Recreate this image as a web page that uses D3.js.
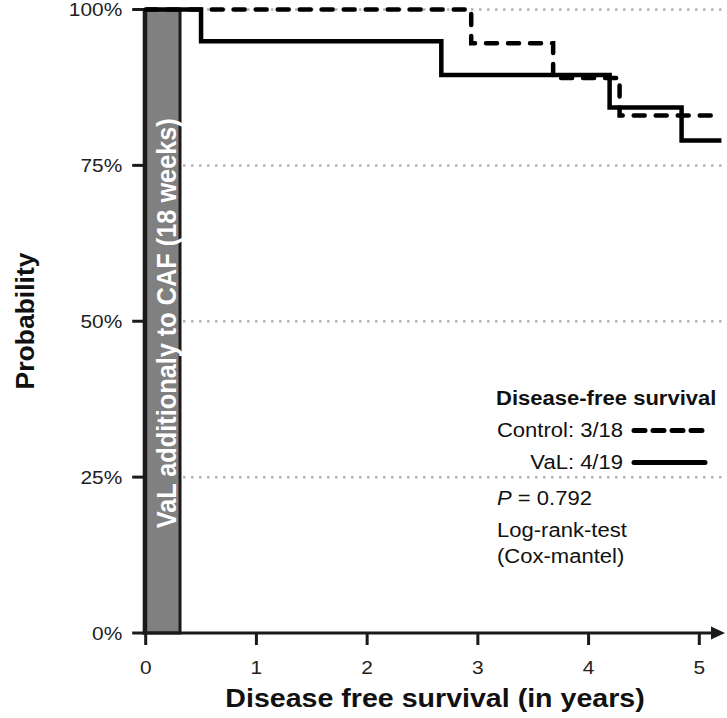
<!DOCTYPE html>
<html><head><meta charset="utf-8">
<script src="https://cdn.jsdelivr.net/npm/d3@7"></script>
<style>body{margin:0;background:#fff}svg{display:block}text{font-family:"Liberation Sans",Arial,sans-serif}</style>
</head><body>
<svg id="c" width="727" height="718"></svg>
<script>
// ---- data ----
const valTimes = [0, 0.50, 2.67, 4.19, 4.84, 5.2];
const valSurv  = [1, 0.949, 0.895, 0.843, 0.790, 0.790];
const ctrlTimes = [0, 2.94, 3.68, 4.28, 5.2];
const ctrlSurv  = [1, 0.946, 0.890, 0.830, 0.830];
const xTicks = [0, 1, 2, 3, 4, 5];
const yTicks = [0, 0.25, 0.5, 0.75, 1];
const yTickLabels = ["0%", "25%", "50%", "75%", "100%"];
const treatmentEnd = 0.31;           // 18 weeks
const legendTitle = "Disease-free survival";
const legendItems = ["Control: 3/18", "VaL: 4/19"];
const pText = "0.792";

const svg = d3.select("#c");
const x = d3.scaleLinear().domain([0, 5]).range([145.7, 699.3]);
const y = d3.scaleLinear().domain([0, 1]).range([633, 9.5]);
const SX = 1.13;
const ink = "#1a1a1a";

// grid
svg.append("g").selectAll("line").data(yTicks.filter(d => d > 0)).join("line")
  .attr("x1", x(treatmentEnd) + 3).attr("x2", 727)
  .attr("y1", d => y(d)).attr("y2", d => y(d))
  .attr("stroke", "#b3b3b3").attr("stroke-width", 2.5).attr("stroke-dasharray", "2.5,5.5");

// treatment bar
svg.append("rect")
  .attr("x", x(0)).attr("y", y(1))
  .attr("width", x(treatmentEnd) - x(0)).attr("height", y(0) - y(1))
  .attr("fill", "#808080").attr("stroke", ink).attr("stroke-width", 3);
svg.append("text")
  .attr("transform", `translate(176,${y(0.5)+2}) rotate(-90) scale(1,1.12)`)
  .attr("text-anchor", "middle").attr("fill", "#fff")
  .attr("font-weight", "bold").attr("font-size", 25.3)
  .text("VaL additionaly to CAF (18 weeks)");

// y axis
const yAxis = svg.append("g").attr("transform", `translate(${x(0)-1.5},0)`);
yAxis.append("line").attr("x1", 0).attr("x2", 0).attr("y1", y(1) - 1.5).attr("y2", y(0) + 1.5)
  .attr("stroke", ink).attr("stroke-width", 3);
yAxis.selectAll("line.t").data(yTicks).join("line").attr("class", "t")
  .attr("x1", -12).attr("x2", 0).attr("y1", d => y(d)).attr("y2", d => y(d))
  .attr("stroke", ink).attr("stroke-width", 3);
yAxis.selectAll("text").data(yTicks).join("text")
  .attr("transform", d => `translate(-22,${y(d) + 6.5}) scale(${SX},1)`)
  .attr("text-anchor", "end").attr("font-size", 18.5).attr("fill", "#222")
  .text((d, i) => yTickLabels[i]);

// x axis
const xAxis = svg.append("g");
xAxis.append("line").attr("x1", x(0) - 3).attr("x2", 712).attr("y1", y(0)).attr("y2", y(0))
  .attr("stroke", ink).attr("stroke-width", 3);
xAxis.append("path").attr("d", `M711,${y(0)-6.5} L725,${y(0)} L711,${y(0)+6.5} Z`).attr("fill", ink);
xAxis.selectAll("line.t").data(xTicks).join("line").attr("class", "t")
  .attr("x1", d => x(d)).attr("x2", d => x(d)).attr("y1", y(0)).attr("y2", y(0) + 12)
  .attr("stroke", ink).attr("stroke-width", 3);
xAxis.selectAll("text").data(xTicks).join("text")
  .attr("transform", d => `translate(${x(d)},674) scale(${SX},1)`)
  .attr("text-anchor", "middle").attr("font-size", 18.5).attr("fill", "#222")
  .text(d => d);

// axis titles
svg.append("text")
  .attr("transform", `translate(435,707) scale(${SX},1)`)
  .attr("text-anchor", "middle").attr("font-weight", "bold").attr("font-size", 25.3).attr("fill", "#111")
  .text("Disease free survival (in years)");
svg.append("text")
  .attr("transform", `translate(33.5,321) rotate(-90)`)
  .attr("text-anchor", "middle").attr("font-weight", "bold").attr("font-size", 26.5).attr("fill", "#111")
  .text("Probability");

// KM curves
const line = d3.line().x(d => x(d[0])).y(d => y(d[1])).curve(d3.curveStepAfter);
const valData = valTimes.map((t, i) => [t, valSurv[i]]);
const ctrlData = ctrlTimes.map((t, i) => [t, ctrlSurv[i]]);
svg.append("path").datum(ctrlData).attr("d", line).attr("fill", "none")
  .attr("stroke", "#000").attr("stroke-width", 4.5).attr("stroke-linecap", "round")
  .attr("stroke-dasharray", "11,11");
svg.append("path").datum(valData).attr("d", line).attr("fill", "none")
  .attr("stroke", "#000").attr("stroke-width", 4.5);

// legend
const lg = svg.append("g");
lg.append("text").attr("transform", `translate(496,405) scale(${SX},1)`)
  .attr("font-weight", "bold").attr("font-size", 19.5).attr("fill", "#111").text(legendTitle);
const legY = [437, 469];
const dashes = ["11,8", null];
legendItems.forEach((t, i) => {
  lg.append("text").attr("transform", `translate(623,${legY[i]}) scale(${SX},1)`)
    .attr("text-anchor", "end").attr("font-size", 19.5).attr("fill", "#111").text(t);
  lg.append("line").attr("x1", 634).attr("x2", 705).attr("y1", legY[i] - 6.5).attr("y2", legY[i] - 6.5)
    .attr("stroke", "#000").attr("stroke-width", 5).attr("stroke-linecap", "round")
    .attr("stroke-dasharray", dashes[i]);
});
const pt = lg.append("text").attr("transform", `translate(497,505) scale(${SX},1)`)
  .attr("font-size", 19.5).attr("fill", "#111");
pt.append("tspan").attr("font-style", "italic").text("P");
pt.append("tspan").text(" = " + pText);
lg.append("text").attr("transform", `translate(497,537) scale(${SX},1)`)
  .attr("font-size", 19.5).attr("fill", "#111").text("Log-rank-test");
lg.append("text").attr("transform", `translate(497,563) scale(${SX},1)`)
  .attr("font-size", 19.5).attr("fill", "#111").text("(Cox-mantel)");
</script>
</body></html>
